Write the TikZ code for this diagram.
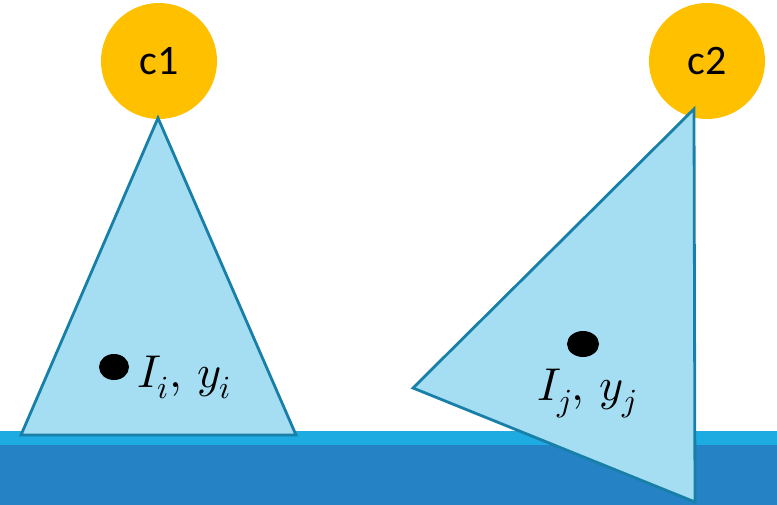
\documentclass[tikz,border=0pt]{standalone}
\usepackage{unicode-math}
\setmainfont{Carlito}
\setmathfont{Latin Modern Math}
\definecolor{camyellow}{RGB}{255,192,0}
\definecolor{conefill}{RGB}{165,222,242}
\definecolor{coneline}{RGB}{24,128,168}
\definecolor{groundtop}{RGB}{29,171,226}
\definecolor{groundlow}{RGB}{37,130,197}
\tikzset{
  cam/.style={circle, fill=camyellow, minimum size=116pt, inner sep=0pt,
    font=\fontsize{42}{48}\selectfont},
  cone/.style={draw=coneline, fill=conefill, line width=2.8pt, line join=miter},
  spot/.style={fill=black},
  tag/.style={anchor=base west, inner sep=0pt, font=\fontsize{46}{52}\selectfont}
}
\begin{document}
\begin{tikzpicture}[x=1pt, y=-1pt]
  \useasboundingbox (0,0) rectangle (777,505);
  % ground
  \fill[groundtop] (0,431) rectangle (777,445);
  \fill[groundlow] (0,445) rectangle (777,505);

  % cameras
  \node[cam] (c1) at (159,61) {c1};
  \node[cam] (c2) at (707,61) {c2};

  % view cones
  \coordinate (A1) at (158,118);
  \coordinate (B1) at (21,435);
  \coordinate (C1) at (296,435);
  \draw[cone] (A1) -- (C1) -- (B1) -- cycle;

  \coordinate (A2) at (694,109);
  \coordinate (B2) at (413,388);
  \coordinate (C2) at (695,502);
  \draw[cone] (A2) -- (C2) -- (B2) -- cycle;

  % image points
  \fill[spot] (114,367) ellipse [x radius=15, y radius=13];
  \fill[spot] (583,344) ellipse [x radius=16, y radius=13];
  \node[tag] (ti) at (137,387) {$I_i,\,y_i$};
  \node[tag] (tj) at (537,400) {$I_j,\,y_j$};
\end{tikzpicture}
\end{document}
